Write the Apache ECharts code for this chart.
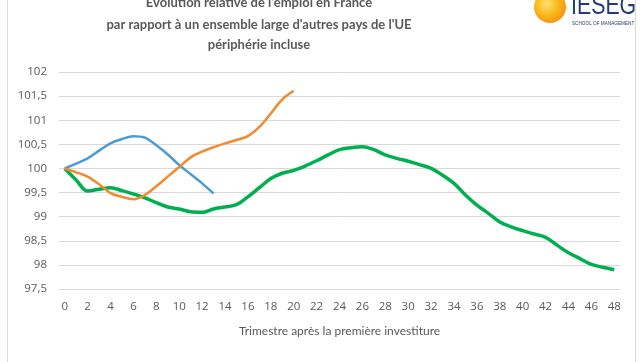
<!DOCTYPE html>
<html><head><meta charset="utf-8">
<script src="https://cdn.jsdelivr.net/npm/echarts@6/dist/echarts.min.js"></script>
<style>html,body{margin:0;padding:0;background:#fff}#c{width:644px;height:362px}</style>
</head><body><div id="c"></div>
<script>
const quarters = ['0','1','2','3','4','5','6','7','8','9','10','11','12','13','14','15','16','17','18','19','20','21','22','23','24','25','26','27','28','29','30','31','32','33','34','35','36','37','38','39','40','41','42','43','44','45','46','47','48'];
const blueSeries = [100,100.1,100.21,100.37,100.52,100.61,100.67,100.64,100.48,100.29,100.07,99.88,99.69,99.48];
const orangeSeries = [100,99.92,99.83,99.67,99.49,99.41,99.36,99.45,99.63,99.83,100.03,100.23,100.35,100.44,100.52,100.59,100.67,100.86,101.14,101.43,101.61];
const greenSeries = [100,99.76,99.53,99.57,99.6,99.54,99.47,99.39,99.29,99.2,99.16,99.1,99.09,99.16,99.2,99.25,99.41,99.6,99.79,99.9,99.96,100.05,100.16,100.28,100.39,100.43,100.45,100.39,100.28,100.21,100.15,100.08,100.0,99.86,99.69,99.45,99.24,99.07,98.89,98.79,98.71,98.64,98.57,98.41,98.25,98.13,98.01,97.95,97.9];
const titleLines = ["Évolution relative de l'emploi en France","par rapport à un ensemble large d'autres pays de l'UE","périphérie incluse"];
const xAxisTitle = "Trimestre après la première investiture";

const chart = echarts.init(document.getElementById('c'));
const font = '"Open Sans", "Noto Sans", sans-serif';
const tfont = 'bold 13px Lato, "Open Sans", sans-serif';
chart.setOption({
  animation: false,
  backgroundColor: '#fff',
  grid: {left: 59, right: 24, top: 72, bottom: 73, containLabel: false},
  xAxis: {
    type: 'category', data: quarters, boundaryGap: true,
    axisLine: {show: false}, axisTick: {show: false},
    axisLabel: {interval: 1, color: '#595959', fontSize: 11.5, fontFamily: font, margin: 12},
    name: xAxisTitle, nameLocation: 'middle', nameGap: 36,
    nameTextStyle: {color: '#595959', fontSize: 12, fontFamily: 'Lato, "Open Sans", sans-serif'}
  },
  yAxis: {
    type: 'value', min: 97.5, max: 102, interval: 0.5,
    axisLine: {show: false}, axisTick: {show: false},
    splitLine: {lineStyle: {color: '#d9d9d9', width: 1}},
    axisLabel: {color: '#595959', fontSize: 11.5, fontFamily: font, margin: 12,
      formatter: v => String(v).replace('.', ',')}
  },
  series: [
    {type: 'line', data: blueSeries, smooth: 0.35, symbol: 'none', lineStyle: {color: '#4a9bd6', width: 2.5}, z: 3},
    {type: 'line', data: orangeSeries, smooth: 0.35, symbol: 'none', lineStyle: {color: '#f28a30', width: 2.5}, z: 3},
    {type: 'line', data: greenSeries, smooth: 0.35, symbol: 'none', lineStyle: {color: '#00b050', width: 3.5}, z: 2}
  ],
  graphic: [
    {type: 'rect', shape: {x: 7.5, y: -10, width: 628, height: 390}, style: {fill: 'none', stroke: '#d9d9d9', lineWidth: 1}, z: -1, silent: true},
    {type: 'text', x: 259, y: 3, style: {text: titleLines[0], fill: '#595959', font: tfont, align: 'center', verticalAlign: 'middle'}},
    {type: 'text', x: 259, y: 25, style: {text: titleLines[1], fill: '#595959', font: tfont, align: 'center', verticalAlign: 'middle'}},
    {type: 'text', x: 259, y: 45, style: {text: titleLines[2], fill: '#595959', font: tfont, align: 'center', verticalAlign: 'middle'}},
    {type: 'circle', shape: {cx: 550, cy: 7, r: 16},
      style: {fill: new echarts.graphic.RadialGradient(0.4, 0.4, 0.7, [{offset: 0, color: '#ffe070'}, {offset: 0.5, color: '#fbb81b'}, {offset: 1, color: '#f08c10'}])}},
    {type: 'text', x: 571, y: 20, scaleX: 0.79, style: {text: 'IESEG', fill: '#243a7c', font: '27px "Liberation Sans", sans-serif', verticalAlign: 'bottom'}},
    {type: 'text', x: 572, y: 23.5, scaleX: 0.85, style: {text: 'SCHOOL OF MANAGEMENT', fill: '#243a7c', font: '5.5px "Liberation Sans", sans-serif', verticalAlign: 'middle'}}
  ]
});
</script></body></html>
